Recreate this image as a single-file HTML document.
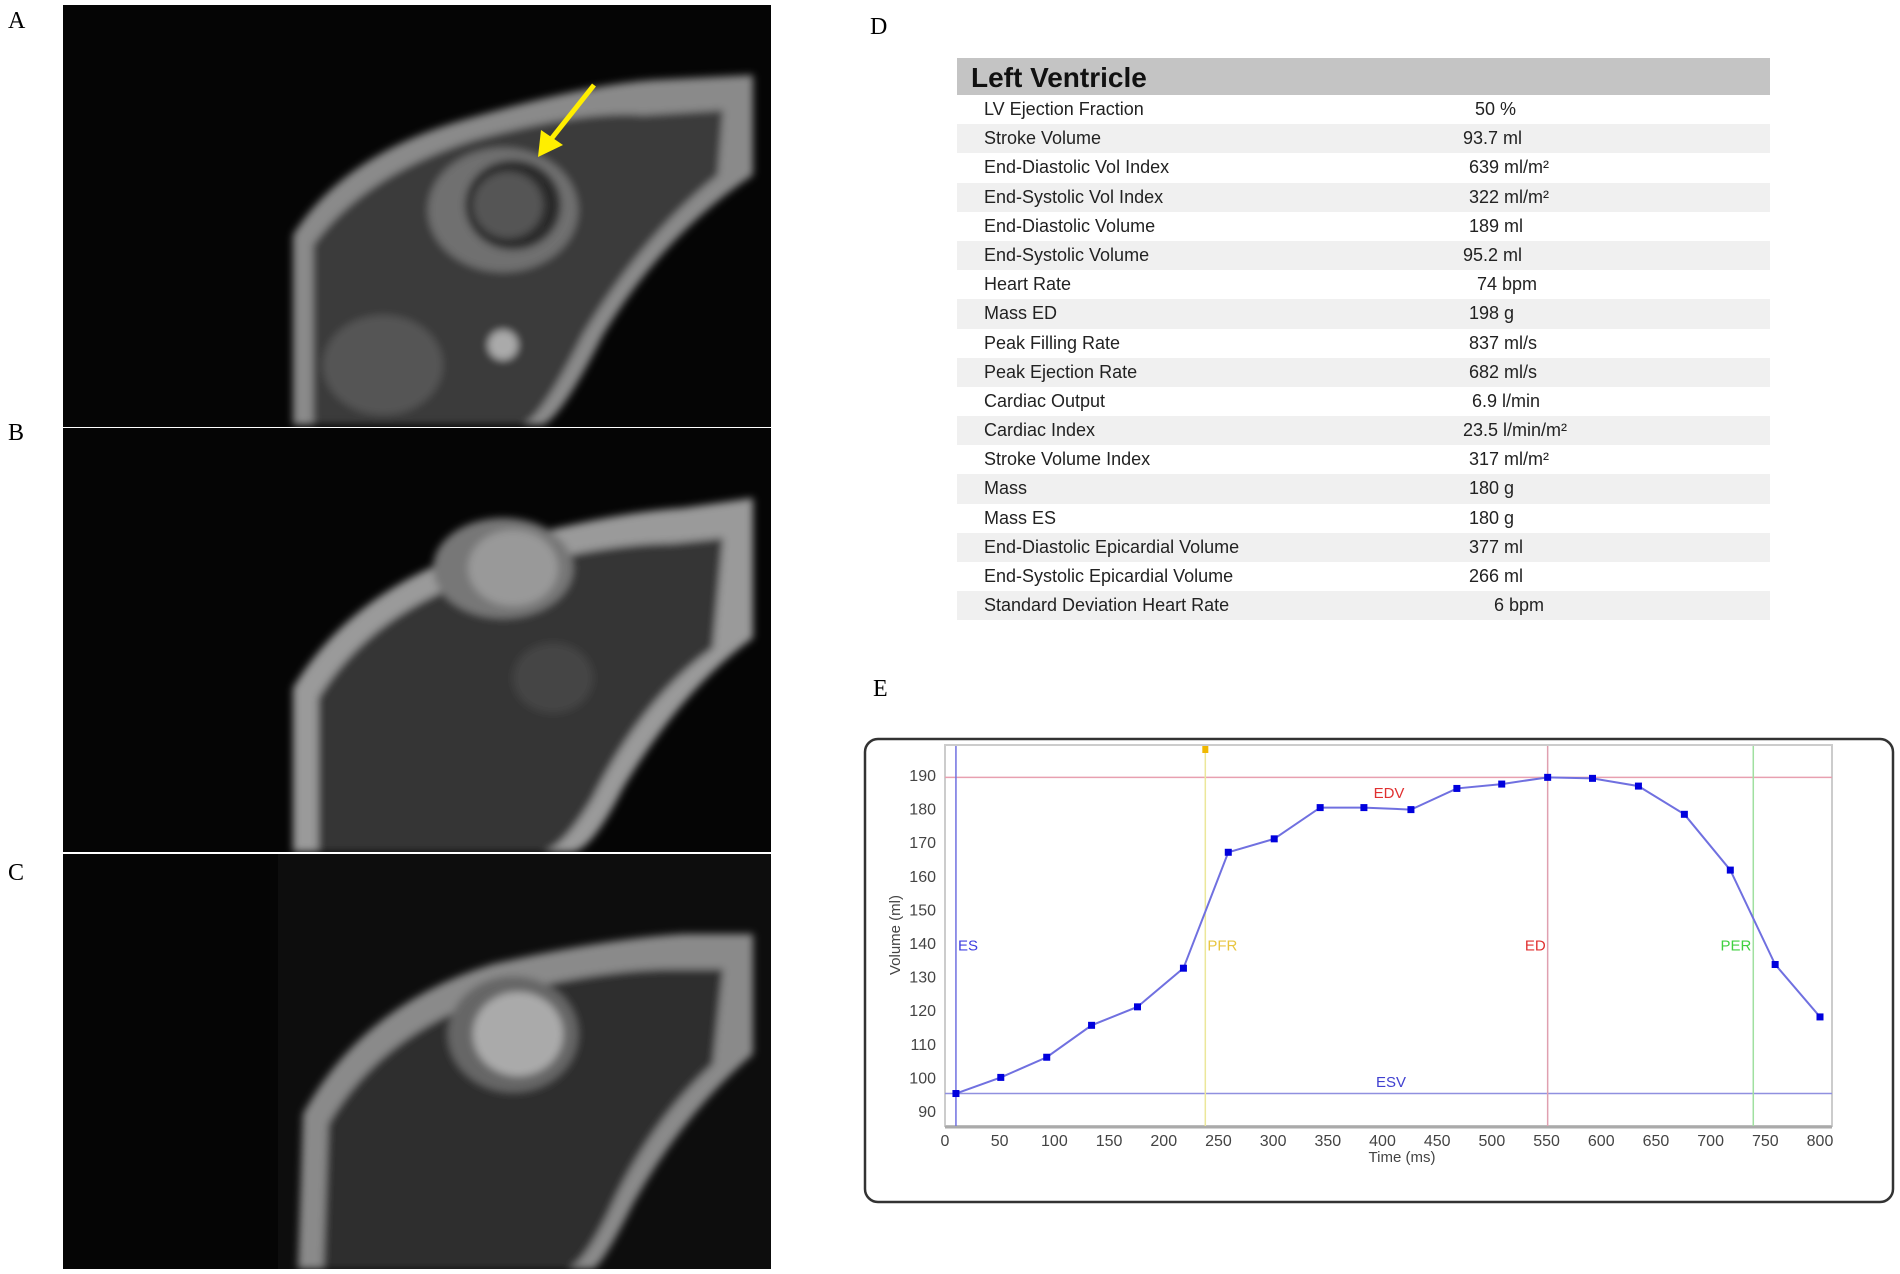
<!DOCTYPE html>
<html><head><meta charset="utf-8">
<style>
html,body{margin:0;padding:0;background:#fff;}
body{width:1900px;height:1274px;position:relative;overflow:hidden;font-family:"Liberation Sans",sans-serif;}
.lbl{position:absolute;font-family:"Liberation Serif",serif;font-size:24px;color:#000;}
.mri{position:absolute;background:#050505;overflow:hidden;}
#table{position:absolute;left:957px;top:58px;width:813px;}
.hdr{height:37px;background:#c4c4c4;font-weight:bold;font-size:28px;line-height:40px;padding-left:14px;color:#111;}
.row{height:29.2px;position:relative;font-size:18px;color:#222;line-height:29px;}
.row:nth-child(even){background:#f0f0f0;}
.row .k{position:absolute;left:27px;}
.row .v{position:absolute;}
</style></head><body>
<div class="lbl" style="left:8px;top:8px">A</div>
<div class="lbl" style="left:8px;top:420px">B</div>
<div class="lbl" style="left:8px;top:860px">C</div>
<div class="lbl" style="left:870px;top:14px">D</div>
<div class="lbl" style="left:873px;top:676px">E</div>

<svg class="mri" style="left:63px;top:5px" width="708" height="422">
<defs><filter id="bl"><feGaussianBlur stdDeviation="4"/></filter></defs>
<g filter="url(#bl)">
<path d="M230,420 L230,230 Q280,150 400,115 Q520,80 590,75 L690,70 L690,170 Q600,230 540,330 Q500,410 480,420 Z" fill="#8a8a8a"/>
<path d="M250,420 L250,240 Q300,170 410,135 Q520,105 580,110 L660,105 L655,170 Q580,230 520,330 Q480,410 460,420 Z" fill="#3a3a3a"/>
<ellipse cx="440" cy="205" rx="75" ry="62" fill="#707070"/>
<ellipse cx="450" cy="200" rx="48" ry="45" fill="#2a2a2a"/>
<ellipse cx="445" cy="200" rx="35" ry="33" fill="#555"/>
<ellipse cx="440" cy="340" rx="15" ry="15" fill="#aaa"/>
<ellipse cx="320" cy="360" rx="60" ry="50" fill="#555"/>
</g>
<line x1="531" y1="80" x2="485" y2="138" stroke="#ffee00" stroke-width="5"/>
<polygon points="475,152 478,125 500,140" fill="#ffee00"/>
</svg>
<svg class="mri" style="left:63px;top:428px" width="708" height="424">
<defs><filter id="bl2"><feGaussianBlur stdDeviation="4"/></filter></defs>
<g filter="url(#bl2)">
<path d="M230,424 L230,260 Q290,160 420,120 Q540,85 620,80 L690,70 L690,210 Q620,260 560,360 Q530,420 510,424 Z" fill="#9a9a9a"/>
<path d="M255,424 L255,270 Q310,180 430,145 Q540,115 610,115 L660,110 L650,220 Q580,270 530,370 Q500,420 480,424 Z" fill="#353535"/>
<ellipse cx="440" cy="140" rx="70" ry="50" fill="#777"/>
<ellipse cx="450" cy="140" rx="45" ry="38" fill="#999"/>
<ellipse cx="490" cy="250" rx="40" ry="35" fill="#444"/>
</g>
</svg>
<svg class="mri" style="left:63px;top:854px" width="708" height="415">
<rect x="215" y="0" width="493" height="415" fill="#0d0d0d"/>
<defs><filter id="bl3"><feGaussianBlur stdDeviation="4"/></filter></defs>
<g filter="url(#bl3)">
<path d="M235,415 L240,260 Q300,150 430,110 Q540,85 620,80 L690,80 L690,200 Q620,260 570,350 Q540,410 530,415 Z" fill="#8a8a8a"/>
<path d="M260,415 L265,270 Q320,175 440,140 Q540,115 610,115 L660,115 L650,210 Q585,270 545,360 Q520,410 505,415 Z" fill="#2e2e2e"/>
<ellipse cx="450" cy="180" rx="65" ry="58" fill="#666"/>
<ellipse cx="455" cy="180" rx="45" ry="42" fill="#aaa"/>
</g>
</svg>

<div id="table">
<div class="hdr">Left Ventricle</div>
<div id="rows"></div>
</div>

<svg id="chart" style="position:absolute;left:0;top:0" width="1900" height="1274"></svg>

<script>
const rowLabels=["LV Ejection Fraction","Stroke Volume","End-Diastolic Vol Index","End-Systolic Vol Index","End-Diastolic Volume","End-Systolic Volume","Heart Rate","Mass ED","Peak Filling Rate","Peak Ejection Rate","Cardiac Output","Cardiac Index","Stroke Volume Index","Mass","Mass ES","End-Diastolic Epicardial Volume","End-Systolic Epicardial Volume","Standard Deviation Heart Rate"];
const rowValues=["50 %","93.7 ml","639 ml/m²","322 ml/m²","189 ml","95.2 ml","74 bpm","198 g","837 ml/s","682 ml/s","6.9 l/min","23.5 l/min/m²","317 ml/m²","180 g","180 g","377 ml","266 ml","6 bpm"];
const valueLeft=[518,506,512,512,512,506,520,512,512,512,515,506,512,512,512,512,512,537];
const rowsEl=document.getElementById('rows');
rowLabels.forEach((l,i)=>{
  const r=document.createElement('div');r.className='row';
  
  
  const k=document.createElement('span');k.className='k';k.textContent=l;
  
  
  const v=document.createElement('span');v.className='v';v.textContent=rowValues[i];v.style.left=valueLeft[i]+'px';
  
  
  r.appendChild(k);r.appendChild(v);rowsEl.appendChild(r);
});

const times=[10,51,93,134,176,218,259,301,343,383,426,468,509,551,592,634,676,718,759,800];
const volumes=[95.2,100,106,115.5,121,132.5,167,171,180.3,180.3,179.7,186,187.3,189.3,189,186.7,178.3,161.7,133.6,118];
const xTicks=[0,50,100,150,200,250,300,350,400,450,500,550,600,650,700,750,800];
const yTicks=[90,100,110,120,130,140,150,160,170,180,190];
const edv=189.3, esv=95.2;
const markers=[{n:'ES',t:10,c:'#7070e0',tc:'#4040e0'},{n:'PFR',t:238,c:'#ece79a',tc:'#e8c640'},{n:'ED',t:551,c:'#e0a0b0',tc:'#e03030'},{n:'PER',t:739,c:'#a0e0a0',tc:'#40d040'}];

const X=t=>945+t*(1820-945)/800;
const Y=v=>1111-(v-90)*(1111-775)/100;
const svg=document.getElementById('chart');
const NS='http://www.w3.org/2000/svg';
function mk(tag,at){const e=document.createElementNS(NS,tag);for(const k in at)e.setAttribute(k,at[k]);svg.appendChild(e);return e;}

let e;
e=mk('rect',{x:865,y:739,width:1028,height:463,rx:13,fill:'#fff',stroke:'#333','stroke-width':2.5});


e=mk('rect',{x:945,y:745,width:887,height:381,fill:'#fff',stroke:'#ccc','stroke-width':2});


e=mk('line',{x1:945,y1:1127,x2:1832,y2:1127,stroke:'#aaa','stroke-width':3});



yTicks.forEach(v=>{
  const t=mk('text',{x:936,y:Y(v)+6,'text-anchor':'end','font-size':16,fill:'#444'});t.textContent=v;
  
  
});
xTicks.forEach(v=>{
  const t=mk('text',{x:X(v),y:1146,'text-anchor':'middle','font-size':16,fill:'#444'});t.textContent=v;
  
  
});
e=mk('text',{x:1402,y:1162,'text-anchor':'middle','font-size':15,fill:'#444'});e.textContent='Time (ms)';


e=mk('text',{x:0,y:0,'text-anchor':'middle','font-size':15,fill:'#444',transform:'translate(900,935) rotate(-90)'});e.textContent='Volume (ml)';



e=mk('line',{x1:945,x2:1832,y1:Y(edv),y2:Y(edv),stroke:'#e8a0b0','stroke-width':1.5});


e=mk('line',{x1:945,x2:1832,y1:Y(esv),y2:Y(esv),stroke:'#9090e0','stroke-width':1.5});


e=mk('text',{x:1389,y:Y(185)+6,'text-anchor':'middle','font-size':15,fill:'#e03030'});e.textContent='EDV';


e=mk('text',{x:1391,y:Y(99)+6,'text-anchor':'middle','font-size':15,fill:'#4040d0'});e.textContent='ESV';



markers.forEach(m=>{
  const l=mk('line',{x1:X(m.t),x2:X(m.t),y1:746,y2:1126,stroke:m.c,'stroke-width':1.5});
  
  
  const right=(m.n==='ES'||m.n==='PFR');
  const t=mk('text',{x:right?X(m.t)+2:X(m.t)-2,y:Y(139.5)+6,'text-anchor':right?'start':'end','font-size':15,fill:m.tc});t.textContent=m.n;
  
  
});
e=mk('rect',{x:X(238)-3,y:746,width:6,height:7,fill:'#f0b800'});



e=mk('polyline',{points:times.map((t,i)=>X(t)+','+Y(volumes[i])).join(' '),fill:'none',stroke:'#7070e0','stroke-width':2});


times.forEach((t,i)=>{
  const p=mk('rect',{x:X(t)-3.5,y:Y(volumes[i])-3.5,width:7,height:7,fill:'#0000dd'});
  
  
});
</script>
</body></html>
